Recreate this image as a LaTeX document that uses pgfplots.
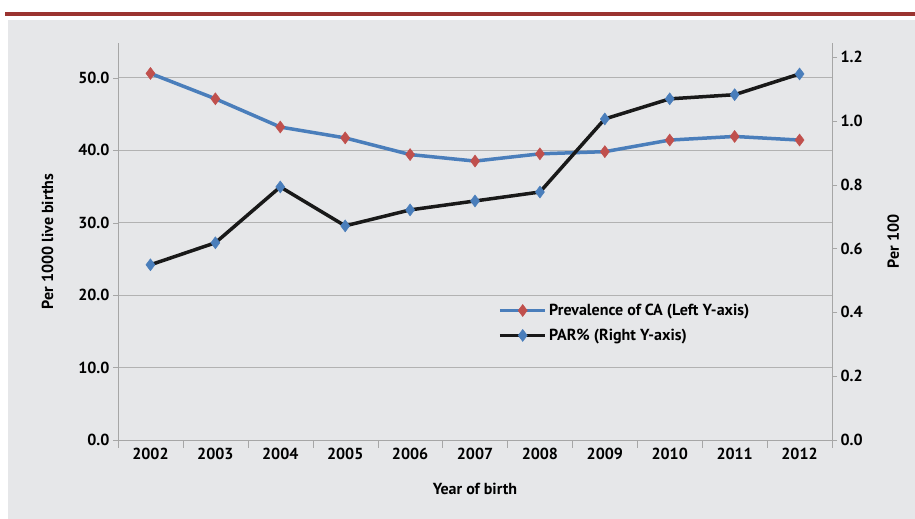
\documentclass[border=0pt]{standalone}
\usepackage{pgfplots}
\pgfplotsset{compat=1.18}
\usepackage{fontspec}
\setmainfont{PT Sans}
\definecolor{bg}{HTML}{E6E7E9}
\definecolor{ln}{HTML}{4A7EBB}
\definecolor{rd}{HTML}{C0504D}
\definecolor{tp}{HTML}{9A3330}
\begin{document}
\begin{tikzpicture}[x=1pt,y=1pt]
\path[use as bounding box] (0,0) rectangle (915,519);
\fill[bg] (8,0) rectangle (915,499);
\draw[tp,line width=3.5pt] (5,505) -- (915,505);
\pgfplotsset{every axis/.append style={scale only axis,width=714pt,height=397pt,at={(118pt,79pt)},anchor=south west,
 xmin=-0.5,xmax=10.5, font=\bfseries\fontsize{16}{19}\selectfont,
 /pgf/number format/assume math mode=true, axis line style={gray!70}, tick style={gray!70}}}
\begin{axis}[axis y line*=left, axis x line*=bottom, ymin=0,ymax=54.8,
 ytick={0,10,...,50}, yticklabel style={/pgf/number format/.cd,fixed,fixed zerofill,precision=1},
 ymajorgrids, grid style={gray!60,line width=0.8pt},
 xtick={0,...,10}, xticklabels={2002,2003,2004,2005,2006,2007,2008,2009,2010,2011,2012},
 minor xtick={-0.5,0.5,...,10.5}, major x tick style={draw=none}, minor tick length=8pt, tick align=outside,
 major tick length=5pt,
 xlabel={Year of birth}, ylabel={Per 1000 live births},
 xlabel style={yshift=-16pt}, ylabel style={yshift=18pt},
 legend image code/.code={\draw[#1,mark=none] (0cm,0cm) -- (1.6cm,0cm); \draw[#1,only marks] plot coordinates {(0.8cm,0cm)};},
 legend style={at={(0.528,0.353)},anchor=north west,draw=none,fill=bg,row sep=8pt,font=\bfseries\fontsize{16}{19}\selectfont},
 legend cell align=left]
\addplot[ln,line width=3.5pt,mark=diamond*,mark size=6pt,mark options={fill=rd,draw=rd,line width=0.5pt}] coordinates {
(0,50.6)(1,47.1)(2,43.2)(3,41.7)(4,39.4)(5,38.5)(6,39.5)(7,39.8)(8,41.4)(9,41.9)(10,41.4)};
\addlegendentry{Prevalence of CA (Left Y-axis)}
\addlegendimage{black!90,line width=3.5pt,mark=diamond*,mark size=6pt,mark options={fill=ln,draw=ln,line width=0.5pt}}
\addlegendentry{PAR\% (Right Y-axis)}
\end{axis}
\begin{axis}[axis y line*=right, axis x line=none, ymin=0,ymax=1.244,
 ytick={0,0.2,...,1.2}, yticklabel style={/pgf/number format/.cd,fixed,fixed zerofill,precision=1},
 tick align=outside, major tick length=5pt, ylabel={Per 100}, ylabel style={yshift=-18pt}]
\addplot[black!90,line width=3.5pt,mark=diamond*,mark size=6pt,mark options={fill=ln,draw=ln,line width=0.5pt}] coordinates {
(0,0.549)(1,0.618)(2,0.793)(3,0.671)(4,0.721)(5,0.749)(6,0.777)(7,1.006)(8,1.069)(9,1.082)(10,1.147)};
\end{axis}
\end{tikzpicture}
\end{document}
